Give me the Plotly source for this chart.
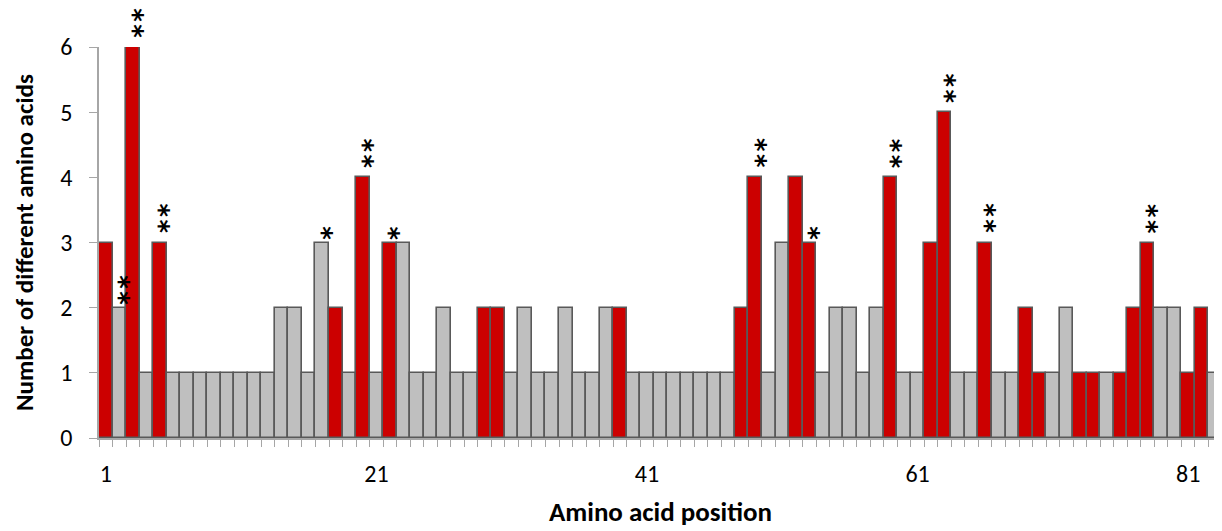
import plotly.graph_objects as go

# ---- data ----
positions = list(range(1, 84))
values = [3, 2, 6, 1, 3, 1, 1, 1, 1, 1, 1, 1, 1, 2, 2, 1, 3, 2, 1, 4,
          1, 3, 3, 1, 1, 2, 1, 1, 2, 2, 1, 2, 1, 1, 2, 1, 1, 2, 2, 1,
          1, 1, 1, 1, 1, 1, 1, 2, 4, 1, 3, 4, 3, 1, 2, 2, 1, 2, 4, 1,
          1, 3, 5, 1, 1, 3, 1, 1, 2, 1, 1, 2, 1, 1, 1, 1, 2, 3, 2, 2,
          1, 2, 1]
red_flag = [1, 0, 1, 0, 1, 0, 0, 0, 0, 0, 0, 0, 0, 0, 0, 0, 0, 1, 0, 1,
            0, 1, 0, 0, 0, 0, 0, 0, 1, 1, 0, 0, 0, 0, 0, 0, 0, 0, 1, 0,
            0, 0, 0, 0, 0, 0, 0, 1, 1, 0, 0, 1, 1, 0, 0, 0, 0, 0, 1, 0,
            0, 1, 1, 0, 0, 1, 0, 0, 1, 1, 0, 0, 1, 1, 0, 1, 1, 1, 0, 0,
            1, 1, 0]
# significance stars: position -> number of asterisks
stars = {2: 2, 3: 2, 5: 2, 17: 1, 20: 2, 22: 1, 49: 2, 53: 1,
         59: 2, 63: 2, 66: 2, 78: 2}
x_tick_vals = [1, 21, 41, 61, 81]
x_tick_text = ["1", "21", "41", "61", "81"]
y_tick_vals = [0, 1, 2, 3, 4, 5, 6]

RED = "#CC0000"
GRAY = "#BFBFBF"
EDGE = "#595959"
AXIS = "#A6A6A6"
FONT = "Carlito, Lato, sans-serif"

colors = [RED if f else GRAY for f in red_flag]

fig = go.Figure(go.Bar(
    x=positions, y=values, width=1,
    marker=dict(color=colors, line=dict(color=EDGE, width=1.6)),
))

annotations = []
for pos, n in stars.items():
    v = values[pos - 1]
    if n == 1:
        shifts = [9]
    else:
        base = 9 if pos == 2 else 16
        shifts = [base, base + 16]
    for s in shifts:
        annotations.append(dict(
            x=pos, y=v, xref="x", yref="y", text="*", showarrow=False,
            textangle=90, yanchor="middle", xanchor="center", yshift=s,
            font=dict(family="DejaVu Sans", size=26, color="#000000",
                      weight="bold"),
        ))

# page body adds an 8px offset; figure is sized so that the plot lands
# where it sits in the reference window
fig.update_layout(
    width=1214, height=523,
    margin=dict(l=91, r=0, t=39, b=93),
    paper_bgcolor="white", plot_bgcolor="white",
    showlegend=False, bargap=0,
    font=dict(family=FONT, color="#000000"),
    annotations=annotations,
    xaxis=dict(
        range=[0.5, 83.5], tickmode="array", tickvals=x_tick_vals,
        ticktext=x_tick_text, ticks="", showline=True, linecolor=AXIS,
        linewidth=1.5, showgrid=False, zeroline=False,
        tickfont=dict(size=24, family=FONT), ticklabelstandoff=13,
        minor=dict(ticks="outside", tick0=0.5, dtick=1, ticklen=7,
                   tickcolor=AXIS, tickwidth=1, showgrid=False),
        title=dict(text="Amino acid position", standoff=16,
                   font=dict(size=27, family=FONT, weight="bold")),
    ),
    yaxis=dict(
        range=[0, 6], tickmode="array", tickvals=y_tick_vals,
        ticks="outside", ticklen=8, tickcolor=AXIS, showline=True,
        linecolor=AXIS, linewidth=1.5, showgrid=False, zeroline=False,
        tickfont=dict(size=24, family=FONT), ticklabelstandoff=12,
        title=dict(text="Number of different amino acids", standoff=20,
                   font=dict(size=25, family=FONT, weight="bold")),
    ),
)

fig.write_html("out.html")
